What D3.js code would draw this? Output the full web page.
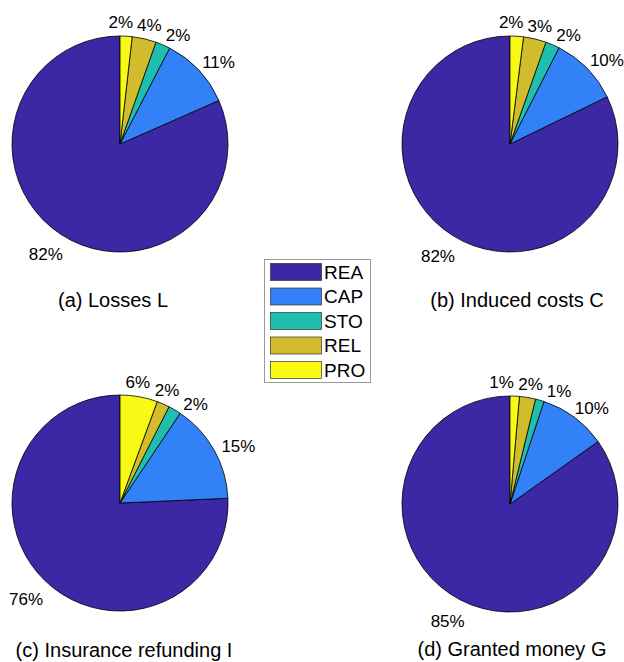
<!DOCTYPE html>
<html>
<head>
<meta charset="utf-8">
<script src="https://cdn.jsdelivr.net/npm/d3@7"></script>
<style>
  body { margin: 0; background: #fff; }
  text { font-family: "Liberation Sans", Arial, Helvetica, sans-serif; fill: #000; }
</style>
</head>
<body>
<div id="chart"></div>
<script>
// categories, in MATLAB pie order (counterclockwise from 12 o'clock)
var categories = ["REA", "CAP", "STO", "REL", "PRO"];
var colors = ["#3c27a5", "#3381f7", "#1ebfae", "#d1bc2b", "#f8f915"];

// shares (percent)
var losses = [81.6, 10.8, 2.2, 3.6, 1.8];
var inducedCosts = [82.2, 10.3, 2.1, 3.4, 2.0];
var insuranceRefunding = [75.7, 14.9, 1.9, 1.9, 5.6];
var grantedMoney = [84.9, 10.1, 1.3, 2.4, 1.4];

var titles = ["(a) Losses L", "(b) Induced costs C", "(c) Insurance refunding I", "(d) Granted money G"];

var width = 624,
    height = 662,
    r = 108;

var panels = [
  {values: losses,             cx: 120, cy: 144, tx: 113, ty: 307},
  {values: inducedCosts,       cx: 510, cy: 144, tx: 517, ty: 307},
  {values: insuranceRefunding, cx: 120, cy: 503, tx: 124, ty: 657},
  {values: grantedMoney,       cx: 510, cy: 504, tx: 512, ty: 656}
];

var svg = d3.select("#chart")
  .append("svg")
  .attr("width", width)
  .attr("height", height);

svg.append("rect")
  .attr("width", width)
  .attr("height", height)
  .attr("fill", "#fff");

var color = d3.scaleOrdinal().domain(categories).range(colors);

// negative span -> slices run counterclockwise like MATLAB
var pie = d3.pie().sort(null).startAngle(0).endAngle(-2 * Math.PI);
var arc = d3.arc().innerRadius(0).outerRadius(r);

var labelH = 15;

function labelPos(theta, w) {
  var s = Math.sin(theta), c = -Math.cos(theta);
  return [1.1 * r * s + s * w / 2, 1.1 * r * c + c * labelH / 2 + 5];
}

panels.forEach(function(p, pi) {
  var g = svg.append("g").attr("transform", "translate(" + p.cx + "," + p.cy + ")");
  var arcs = pie(p.values);
  var total = d3.sum(p.values);

  g.selectAll("path")
    .data(arcs)
    .enter().append("path")
    .attr("d", arc)
    .attr("fill", function(d, i) { return color(categories[i]); })
    .attr("stroke", "#000")
    .attr("stroke-width", 0.8);

  var labels = g.selectAll(".lbl")
    .data(arcs)
    .enter().append("text")
    .attr("class", "lbl")
    .attr("text-anchor", "middle")
    .attr("dominant-baseline", "central")
    .style("font-size", "17px")
    .text(function(d) { return Math.round(d.value / total * 100) + "%"; });

  // label angles clockwise from top, then spread the crowded ones apart
  var items = arcs.map(function(d, i) {
    var m = (d.startAngle + d.endAngle) / 2;
    if (m < 0) m += 2 * Math.PI;
    return {theta: m, w: labels.nodes()[i].getComputedTextLength(), node: labels.nodes()[i]};
  });
  var order = items.slice().sort(function(a, b) { return a.theta - b.theta; });

  for (var it = 0; it < 400; it++) {
    var moved = false;
    for (var k = 0; k < order.length - 1; k++) {
      var a = order[k], b = order[k + 1];
      var pa = labelPos(a.theta, a.w), pb = labelPos(b.theta, b.w);
      var ox = (a.w + b.w) / 2 + 4 - Math.abs(pa[0] - pb[0]);
      var oy = labelH + 1 - Math.abs(pa[1] - pb[1]);
      if (ox > 0 && oy > 0) {
        a.theta -= 0.003;
        b.theta += 0.003;
        moved = true;
      }
    }
    if (!moved) break;
  }

  items.forEach(function(d) {
    var pos = labelPos(d.theta, d.w);
    d3.select(d.node).attr("x", pos[0]).attr("y", pos[1]);
  });

  svg.append("text")
    .attr("x", p.tx)
    .attr("y", p.ty)
    .attr("text-anchor", "middle")
    .style("font-size", "20px")
    .text(titles[pi]);
});

// legend
var legend = svg.append("g");

legend.append("rect")
  .attr("x", 264.5)
  .attr("y", 259.5)
  .attr("width", 106)
  .attr("height", 123)
  .attr("fill", "#fff")
  .attr("stroke", "#999")
  .attr("stroke-width", 1);

var rowY = d3.scalePoint().domain(categories).range([272, 370]);

var rows = legend.selectAll(".row")
  .data(categories)
  .enter().append("g")
  .attr("class", "row")
  .attr("transform", function(d) { return "translate(0," + rowY(d) + ")"; });

rows.append("rect")
  .attr("x", 270.5)
  .attr("y", -8.5)
  .attr("width", 51)
  .attr("height", 17)
  .attr("fill", function(d) { return color(d); })
  .attr("stroke", "#333")
  .attr("stroke-width", 0.7);

rows.append("text")
  .attr("x", 324)
  .attr("y", 0)
  .attr("dominant-baseline", "central")
  .style("font-size", "19px")
  .text(function(d) { return d; });
</script>
</body>
</html>
